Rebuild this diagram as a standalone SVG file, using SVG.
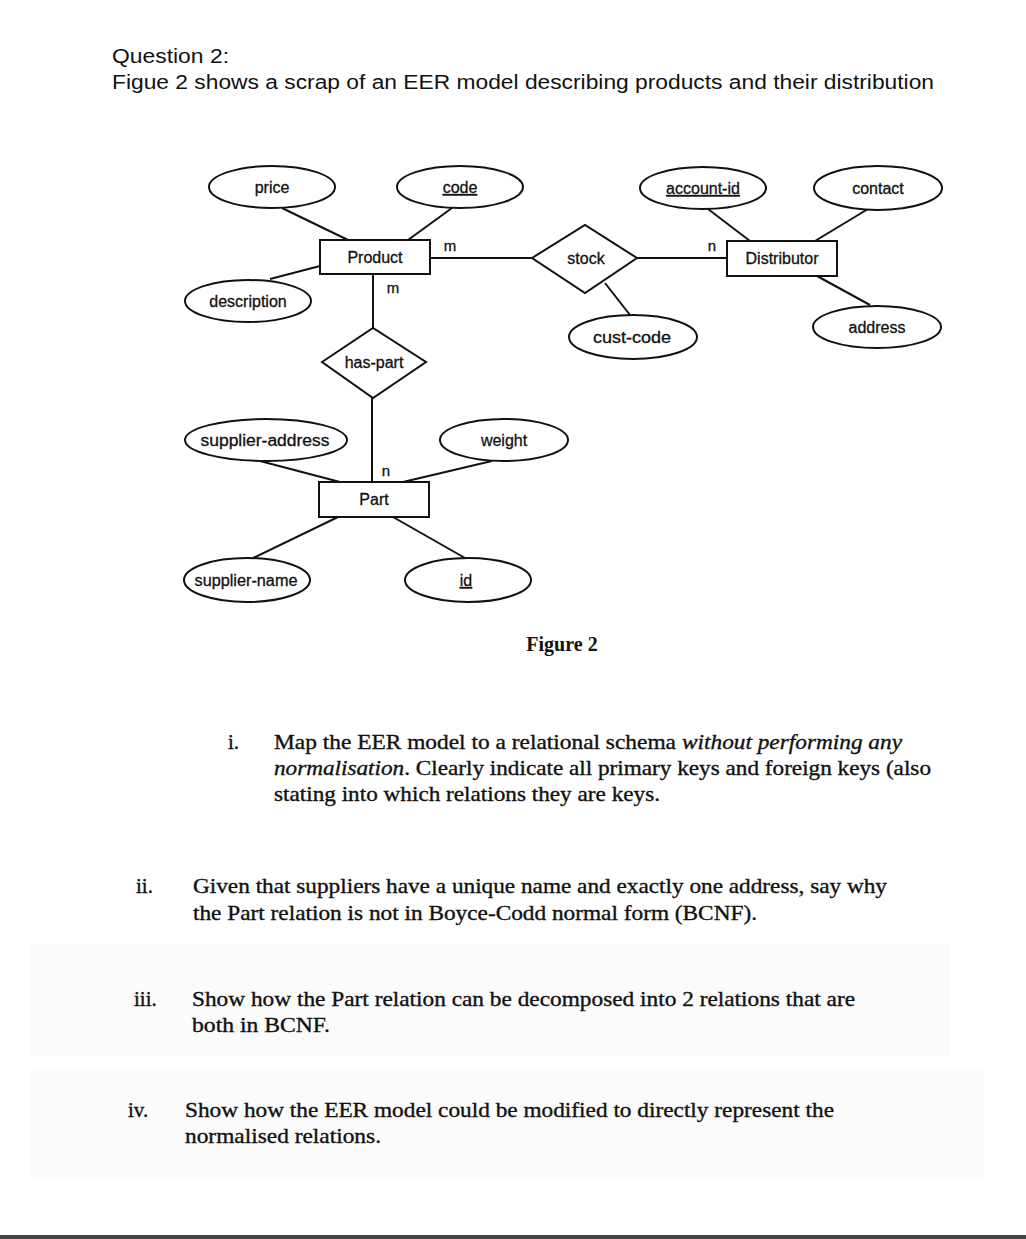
<svg xmlns="http://www.w3.org/2000/svg" width="1026" height="1239" viewBox="0 0 1026 1239">
<style>
.attr{fill:#fff;stroke:#111;stroke-width:2}
.ent{fill:#fff;stroke:#111;stroke-width:2}
.rel{fill:#fff;stroke:#111;stroke-width:2}
.lbl{font-family:"Liberation Sans",Arial,sans-serif;font-size:16px;fill:#111;stroke:#111;stroke-width:0.3;text-anchor:middle}
.card{font-family:"Liberation Sans",Arial,sans-serif;font-size:15px;fill:#111;stroke:#111;stroke-width:0.3;text-anchor:middle}
.conn line{stroke:#111;stroke-width:2}
.q{font-family:"Liberation Serif","Times New Roman",serif;font-size:21px;fill:#111;stroke:#111;stroke-width:0.35}
.it{font-style:italic}
.head{font-family:"Liberation Sans",Arial,sans-serif;font-size:20px;fill:#111}
</style>
<rect width="1026" height="1239" fill="#fff"/>
<rect x="30" y="945" width="920" height="110" fill="#fbfbfb"/>
<rect x="30" y="1068" width="955" height="112" fill="#fbfbfb"/>
<rect x="0" y="1235" width="1026" height="4" fill="#444"/>

<text class="head" x="112" y="63" textLength="117" lengthAdjust="spacingAndGlyphs">Question 2:</text>
<text class="head" x="112" y="89" textLength="822" lengthAdjust="spacingAndGlyphs">Figue 2 shows a scrap of an EER model describing products and their distribution</text>

<g id="connectors" class="conn">
<line x1="282" y1="208" x2="348" y2="240"/>
<line x1="452" y1="208" x2="408" y2="240"/>
<line x1="270" y1="279" x2="320" y2="266"/>
<line x1="430" y1="258" x2="532" y2="258"/>
<line x1="373" y1="274" x2="373" y2="328"/>
<line x1="637" y1="258" x2="727" y2="258"/>
<line x1="708" y1="209" x2="750" y2="241"/>
<line x1="868" y1="209" x2="815" y2="241"/>
<line x1="817" y1="276" x2="870" y2="305"/>
<line x1="605" y1="283" x2="630" y2="315"/>
<line x1="372" y1="398" x2="372" y2="482"/>
<line x1="260" y1="461" x2="340" y2="482"/>
<line x1="492" y1="461" x2="403" y2="482"/>
<line x1="338" y1="517" x2="253" y2="558"/>
<line x1="393" y1="517" x2="465" y2="558"/>
</g>

<g id="cardinalities">
<text class="card" x="450" y="251">m</text>
<text class="card" x="393" y="293">m</text>
<text class="card" x="712" y="251">n</text>
<text class="card" x="386" y="476">n</text>
</g>

<g id="price"><ellipse class="attr" cx="272" cy="187" rx="63" ry="21"/><text class="lbl" x="272" y="193">price</text></g>
<g id="code"><ellipse class="attr" cx="460" cy="187" rx="63" ry="21"/><text class="lbl" x="460" y="193" text-decoration="underline">code</text></g>
<g id="account-id"><ellipse class="attr" cx="703" cy="188" rx="63" ry="21"/><text class="lbl" x="703" y="194" text-decoration="underline">account-id</text></g>
<g id="contact"><ellipse class="attr" cx="878" cy="188" rx="64" ry="22"/><text class="lbl" x="878" y="194">contact</text></g>
<g id="description"><ellipse class="attr" cx="248" cy="301" rx="63" ry="21"/><text class="lbl" x="248" y="307">description</text></g>
<g id="cust-code"><ellipse class="attr" cx="633" cy="337" rx="64" ry="22"/><text class="lbl" x="632" y="343" textLength="78" lengthAdjust="spacingAndGlyphs">cust-code</text></g>
<g id="address"><ellipse class="attr" cx="877" cy="327" rx="64" ry="21"/><text class="lbl" x="877" y="333">address</text></g>
<g id="supplier-address"><ellipse class="attr" cx="266" cy="440" rx="81" ry="21"/><text class="lbl" x="265" y="446" textLength="129" lengthAdjust="spacingAndGlyphs">supplier-address</text></g>
<g id="weight"><ellipse class="attr" cx="504" cy="440" rx="64" ry="21"/><text class="lbl" x="504" y="446">weight</text></g>
<g id="supplier-name"><ellipse class="attr" cx="247" cy="580" rx="63" ry="22"/><text class="lbl" x="246" y="586" textLength="103" lengthAdjust="spacingAndGlyphs">supplier-name</text></g>
<g id="id"><ellipse class="attr" cx="468" cy="580" rx="63" ry="22"/><text class="lbl" x="466" y="586" text-decoration="underline">id</text></g>

<g id="Product"><rect class="ent" x="320" y="240" width="110" height="34"/><text class="lbl" x="375" y="263">Product</text></g>
<g id="Distributor"><rect class="ent" x="727" y="241" width="110" height="35"/><text class="lbl" x="782" y="264">Distributor</text></g>
<g id="Part"><rect class="ent" x="319" y="482" width="110" height="35"/><text class="lbl" x="374" y="505">Part</text></g>

<g id="stock"><polygon class="rel" points="532,258 585,225 637,258 585,293"/><text class="lbl" x="586" y="264">stock</text></g>
<g id="has-part"><polygon class="rel" points="322,362 373,328 426,362 373,398"/><text class="lbl" x="374" y="368">has-part</text></g>

<text x="562" y="651" font-family="'Liberation Serif','Times New Roman',serif" font-size="20" font-weight="bold" fill="#111" text-anchor="middle">Figure 2</text>

<g id="q-i">
<text class="q" x="228" y="749">i.</text>
<text class="q" x="274" y="749" textLength="402" lengthAdjust="spacingAndGlyphs">Map the EER model to a relational schema</text>
<text class="q it" x="682" y="749" textLength="220" lengthAdjust="spacingAndGlyphs">without performing any</text>
<text class="q" x="274" y="775" textLength="657" lengthAdjust="spacingAndGlyphs"><tspan class="it">normalisation</tspan>. Clearly indicate all primary keys and foreign keys (also</text>
<text class="q" x="274" y="801" textLength="386" lengthAdjust="spacingAndGlyphs">stating into which relations they are keys.</text>
</g>
<g id="q-ii">
<text class="q" x="136" y="893">ii.</text>
<text class="q" x="193" y="893" textLength="694" lengthAdjust="spacingAndGlyphs">Given that suppliers have a unique name and exactly one address, say why</text>
<text class="q" x="193" y="920" textLength="564" lengthAdjust="spacingAndGlyphs">the Part relation is not in Boyce-Codd normal form (BCNF).</text>
</g>
<g id="q-iii">
<text class="q" x="134" y="1006">iii.</text>
<text class="q" x="192" y="1006" textLength="663" lengthAdjust="spacingAndGlyphs">Show how the Part relation can be decomposed into 2 relations that are</text>
<text class="q" x="192" y="1032" textLength="138" lengthAdjust="spacingAndGlyphs">both in BCNF.</text>
</g>
<g id="q-iv">
<text class="q" x="128" y="1117">iv.</text>
<text class="q" x="185" y="1117" textLength="649" lengthAdjust="spacingAndGlyphs">Show how the EER model could be modified to directly represent the</text>
<text class="q" x="185" y="1143" textLength="196" lengthAdjust="spacingAndGlyphs">normalised relations.</text>
</g>
</svg>
